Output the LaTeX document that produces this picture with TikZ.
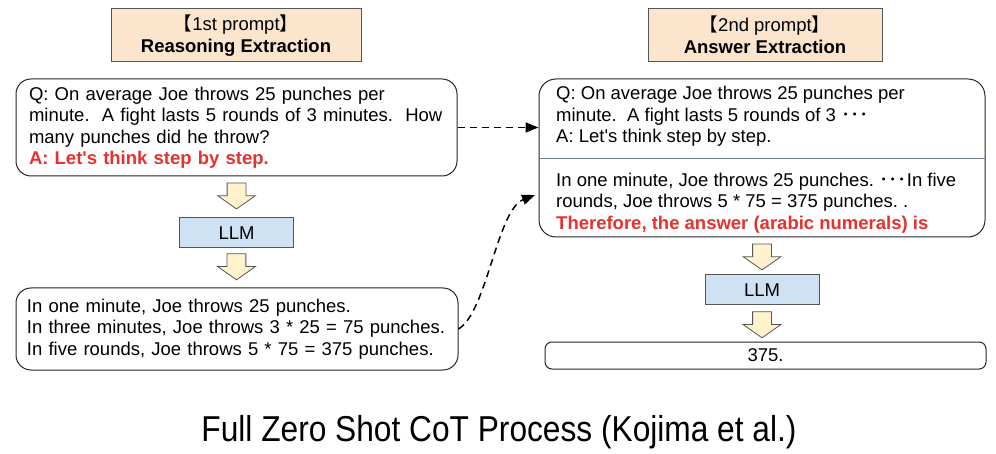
\documentclass[tikz,border=0pt]{standalone}
\usepackage{fontspec}
\setmainfont{Liberation Sans}
\newfontfamily\cjk{Noto Sans CJK JP}
\newfontfamily\capfont{Liberation Sans}[FakeStretch=0.88]
\usetikzlibrary{positioning,shapes.arrows,arrows.meta}

\definecolor{peach}{RGB}{252,229,205}
\definecolor{llmblue}{RGB}{207,226,243}
\definecolor{pale}{RGB}{255,242,204}
\definecolor{hired}{RGB}{228,50,48}
\definecolor{edgegray}{RGB}{85,85,85}
\definecolor{splitgray}{RGB}{110,125,140}

\newcommand{\bodyfont}{\fontsize{18.5}{21.5}\selectfont\frenchspacing}
\newcommand{\hot}[1]{{\color{hired}\bfseries #1}}
\newcommand{\shaftbox}{\hbox to 18pt{\vrule width 0pt height 14pt\hfil}}

\tikzset{
  titlebox/.style={draw=edgegray, fill=peach, line width=1, minimum width=250, minimum height=53, align=center, inner sep=0, font=\bodyfont},
  textbox/.style={draw=black!85, rounded corners=15, line width=1, align=left, inner xsep=13, inner ysep=0, font=\bodyfont},
  llmbox/.style={draw=edgegray, fill=llmblue, line width=1, minimum width=114, minimum height=30, inner sep=0, font=\bodyfont},
  fatarrow/.style={single arrow, shape border rotate=270, draw=edgegray, fill=pale, line width=0.8, minimum height=26, minimum width=37, single arrow head extend=9.5, single arrow tip angle=110, single arrow head indent=0, inner sep=0},
  dasharrow/.style={line width=1.5, dash pattern=on 7pt off 5pt, -{Triangle[length=13pt,width=10pt]}}
}

\begin{document}
\begin{tikzpicture}[x=1pt,y=1pt,yscale=-1,xscale=1]
\useasboundingbox (0,0) rectangle (996,454);
%Title boxes
\node[titlebox] (t1) at (236,35.5) {{\cjk【}1st prompt{\cjk】}\\\textbf{Reasoning Extraction}};
\node[titlebox, minimum width=234] (t2) at (765,35) {{\cjk【}2nd prompt{\cjk】}\\\textbf{Answer Extraction}};
%1st prompt
\node[textbox, text width=415, minimum height=97] (q1) at (236.5,127.5) {Q: On average Joe throws 25 punches per\\minute.~ A fight lasts 5 rounds of 3 minutes.~ How\\many punches did he throw?\\\hot{A: Let\textquotesingle s think step by step.}};
\node[fatarrow, below=6pt of q1] (a1) {\shaftbox};
\node[llmbox, below=8pt of a1] (l1) {LLM};
\node[fatarrow, below=5pt of l1] (a2) {\shaftbox};
\node[textbox, inner xsep=11, text width=420, minimum height=82] (r1) at (237,329) {In one minute, Joe throws 25 punches.\\In three minutes, Joe throws 3 * 25 = 75 punches.\\In five rounds, Joe throws 5 * 75 = 375 punches.};
%2nd prompt
\node[textbox, minimum width=446, minimum height=158, rounded corners=17] (ans) at (762,158) {};
\draw[splitgray, line width=0.9] (ans.west) -- (ans.east);
\node[anchor=west, align=left, inner sep=0, font=\bodyfont] (ansq) at (556,116.5) {Q: On average Joe throws 25 punches per\\minute.~ A fight lasts 5 rounds of 3 {\cjk ･･･}\\A: Let\textquotesingle s think step by step.};
\node[anchor=west, align=left, inner sep=0, font=\bodyfont] (ansr) at (556,203) {In one minute, Joe throws 25 punches. {\cjk ･･･}In five\\rounds, Joe throws 5 * 75 = 375 punches. .\\\hot{Therefore, the answer (arabic numerals) is}};
\node[fatarrow, below=6pt of ans] (a3) {\shaftbox};
\node[llmbox, below=4pt of a3] (l2) {LLM};
\node[fatarrow, below=6pt of l2] (a4) {\shaftbox};
\node[textbox, rounded corners=7, minimum width=441, minimum height=27] (fin) at (765.5,355.5) {375.};
%Dashed links
\draw[dasharrow] (q1.east) -- (q1.east -| ans.west);
\coordinate (tip2) at (535,195);
\draw[dasharrow] (r1.east) .. controls (487,312) and (497,210) .. (tip2);
%Caption
\node[font=\capfont\fontsize{36}{40}\selectfont] (cap) at (499,432) {Full Zero Shot CoT Process (Kojima et al.)};
\end{tikzpicture}
\end{document}
